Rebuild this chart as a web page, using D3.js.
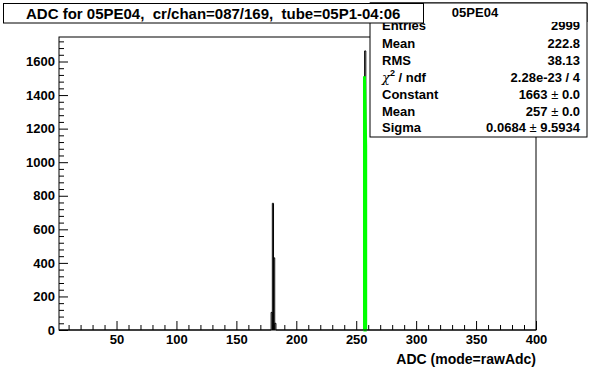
<!DOCTYPE html>
<html><head><meta charset="utf-8">
<script src="https://cdn.jsdelivr.net/npm/d3@7"></script>
<style>
body{margin:0;background:#fff;}
text{font-family:"Liberation Sans",Arial,Helvetica,sans-serif;font-weight:bold;fill:#000;}
</style></head>
<body><svg id="c" width="596" height="368"></svg>
<script>
// ---- data ----
const titleText = "ADC for 05PE04,  cr/chan=087/169,  tube=05P1-04:06";
const histName = "05PE04";
const xTitle = "ADC (mode=rawAdc)";
const xDomain = [2, 400];
const yDomain = [0, 1746];
const xMajorTicks = [50, 100, 150, 200, 250, 300, 350, 400];
const yMajorTicks = [0, 200, 400, 600, 800, 1000, 1200, 1400, 1600];
const binLow   = [179, 180, 181, 182, 256, 257, 258];
const binCount = [105, 755, 430, 40, 2, 1663, 2];
const fitX = [256.0, 256.9, 256.9, 257.9, 257.9, 258.8];
const fitY = [0, 0, 1512, 1100, 0, 0];
const statLabels = ["Entries", "Mean", "RMS", "chi2", "Constant", "Mean", "Sigma"];
const statValues = ["2999", "222.8", "38.13", "2.28e-23 / 4", ["1663", "0.0"], ["257", "0.0"], ["0.0684", "9.5934"]];

// ---- layout ----
const svg = d3.select("#c");
const L = 59, R = 536, T = 37, B = 330;
const x = d3.scaleLinear().domain(xDomain).range([L, R]);
const y = d3.scaleLinear().domain(yDomain).range([B, T]);

// histogram outline
const pts = [[xDomain[0], 0]];
binLow.forEach((lo, i) => {
  pts.push([lo, 0], [lo, binCount[i]], [lo + 1, binCount[i]], [lo + 1, 0]);
});
pts.push([xDomain[1], 0]);
const line = d3.line().x(d => x(d[0])).y(d => y(d[1]));
svg.append("path").attr("d", line(pts)).attr("fill", "none").attr("stroke", "#000").attr("stroke-width", 1);

// fit curve
svg.append("path").attr("d", line(fitX.map((v, i) => [v, fitY[i]])))
  .attr("fill", "none").attr("stroke", "#00ff00").attr("stroke-width", 3);

// frame
svg.append("rect").attr("x", L).attr("y", T).attr("width", R - L).attr("height", B - T)
  .attr("fill", "none").attr("stroke", "#000").attr("stroke-width", 1);

// x axis
const xMinor = d3.range(10, 401, 10).filter(v => v % 50 !== 0);
const gx = svg.append("g").attr("transform", `translate(0,${B})`)
  .call(d3.axisBottom(x).tickValues(xMajorTicks).tickSizeInner(-9).tickSizeOuter(0).tickPadding(5).tickFormat(d3.format("d")));
gx.select(".domain").remove();
gx.selectAll("text").attr("font-size", 13).attr("font-family", null).attr("dy", "0.71em");
const gx2 = svg.append("g").attr("transform", `translate(0,${B})`)
  .call(d3.axisBottom(x).tickValues(xMinor).tickSizeInner(-5).tickSizeOuter(0).tickFormat(""));
gx2.select(".domain").remove();

// y axis
const yMinor = d3.range(40, 1746, 40).filter(v => v % 200 !== 0);
const gy = svg.append("g").attr("transform", `translate(${L},0)`)
  .call(d3.axisLeft(y).tickValues(yMajorTicks).tickSizeInner(-9).tickSizeOuter(0).tickPadding(4).tickFormat(d3.format("d")));
gy.select(".domain").remove();
gy.selectAll("text").attr("font-size", 13).attr("font-family", null);
const gy2 = svg.append("g").attr("transform", `translate(${L},0)`)
  .call(d3.axisLeft(y).tickValues(yMinor).tickSizeInner(-5).tickSizeOuter(0).tickFormat(""));
gy2.select(".domain").remove();
svg.selectAll(".tick line").attr("stroke", "#000");

// x title
svg.append("text").attr("x", R).attr("y", 364).attr("text-anchor", "end")
  .attr("font-size", 14).text(xTitle);

// stats box
const SX = 370, SR = 587, ST = 3, SB = 137;
svg.append("rect").attr("x", SX).attr("y", ST).attr("width", SR - SX).attr("height", SB - ST)
  .attr("fill", "#fff").attr("stroke", "#000");
const rowY = [30, 48, 65, 82, 99, 116, 132];
statLabels.forEach((lab, i) => {
  const t = svg.append("text").attr("x", 382).attr("y", rowY[i]).attr("font-size", 13);
  if (lab === "chi2") {
    t.append("tspan").attr("font-weight", "normal").attr("font-family", "DejaVu Serif").attr("font-style", "italic").text("\u03c7");
    t.append("tspan").attr("font-size", 9).attr("dy", -6).text("2");
    t.append("tspan").attr("dy", 6).text(" / ndf");
  } else t.text(lab);
  const v = svg.append("text").attr("x", 580).attr("y", rowY[i]).attr("font-size", 13).attr("text-anchor", "end");
  const val = statValues[i];
  if (Array.isArray(val)) {
    v.append("tspan").text(val[0] + " ");
    v.append("tspan").attr("font-weight", "normal").text("\u00b1");
    v.append("tspan").text(" " + val[1]);
  } else v.text(val);
});
// stats header
svg.append("rect").attr("x", SX).attr("y", ST).attr("width", SR - SX).attr("height", 19)
  .attr("fill", "#fff").attr("stroke", "none");
svg.append("path").attr("d", `M${SX},${ST + 19}V${ST}H${SR}V${ST + 19}`).attr("fill", "none").attr("stroke", "#000");
svg.append("text").attr("x", 475).attr("y", 17).attr("text-anchor", "middle").attr("font-size", 13).text(histName);

// title box
svg.append("rect").attr("x", 3.5).attr("y", 3.5).attr("width", 420).attr("height", 19.5)
  .attr("fill", "#fff").attr("stroke", "#000");
svg.append("text").attr("x", 26).attr("y", 18.5).attr("font-size", 15)
  .style("white-space", "pre").text(titleText);
</script></body></html>
